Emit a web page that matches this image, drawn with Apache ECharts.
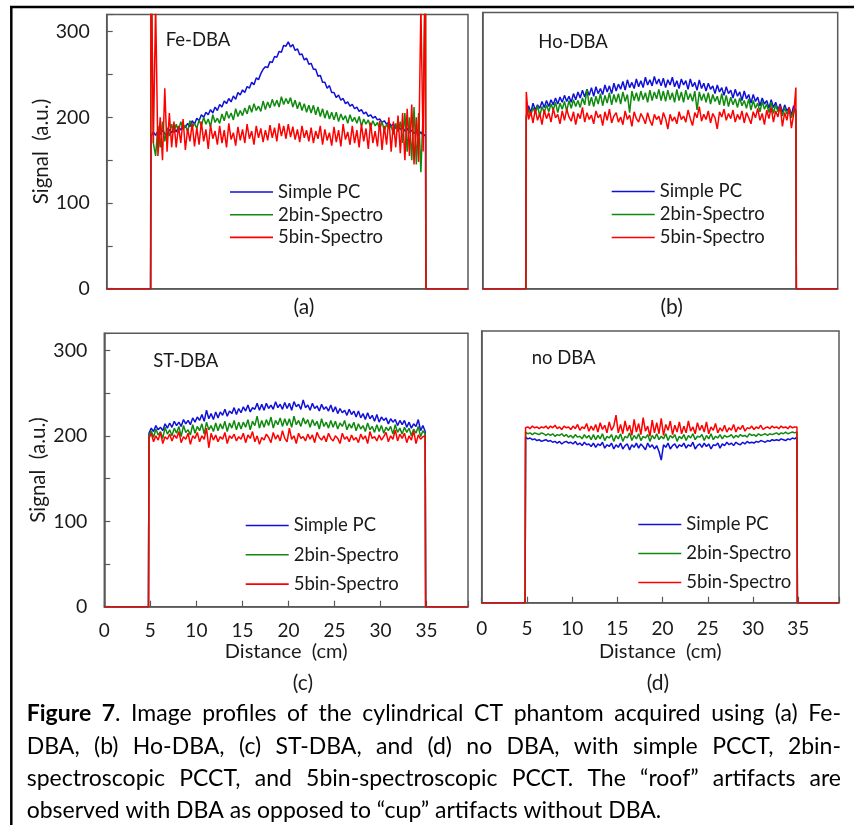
<!DOCTYPE html>
<html><head><meta charset="utf-8">
<script src="https://cdn.jsdelivr.net/npm/echarts@6/dist/echarts.min.js"></script>
<style>html,body{margin:0;padding:0;background:#fff}#c{width:854px;height:825px}</style>
</head><body><div id="c"></div><script>
// ---------------- DATA ----------------
const SERIES_NAMES = ['Simple PC', '2bin-Spectro', '5bin-Spectro'];
const PANEL_TITLES = ['Fe-DBA', 'Ho-DBA', 'ST-DBA', 'no DBA'];
const PANEL_LABELS = ['(a)', '(b)', '(c)', '(d)'];
const Y_TICK_LABELS = [0, 100, 200, 300];
const X_TICK_LABELS = [0, 5, 10, 15, 20, 25, 30, 35];
const Y_NAME = 'Signal  (a.u.)';
const X_NAME = 'Distance  (cm)';
// sample positions (cm): first sample and spacing of the profile samples
const X_START = 4.85, X_STEP = 0.25;
// zero baseline before/after the phantom (cm)
const EDGE_X = [0, 4.8, 34.9, 39.5];

// (a) Fe-DBA
const FE_SIMPLE = [
 178,183,179,184,180,185,181,179,186,182,
 187,183,189,185,191,188,193,189,196,192,
 199,196,203,200,206,203,209,205,212,208,
 215,212,219,216,222,218,225,221,229,226,
 232,229,236,234,241,238,246,244,251,256,
 259,258,265,264,271,270,277,276,284,283,
 288,282,285,278,280,273,274,267,269,262,
 263,256,256,248,249,241,241,234,237,229,
 229,223,226,220,222,216,218,213,215,210,
 212,207,209,204,206,201,203,199,201,197,
 198,194,196,192,194,190,192,187,190,186,
 188,184,187,182,185,181,184,179,183,178,
 180];
const FE_2BIN = [
 400,170,155,190,165,195,172,188,178,192,
 182,192,184,195,186,191,183,196,188,193,
 187,197,190,200,192,198,189,203,194,199,
 193,204,196,207,199,205,197,210,201,208,
 202,211,204,214,206,216,208,213,207,219,
 209,218,211,221,213,220,212,224,215,222,
 216,223,212,220,210,218,208,216,206,214,
 205,214,203,212,201,210,199,208,198,206,
 197,206,195,204,197,202,193,203,195,200,
 193,201,190,198,192,197,188,196,190,194,
 186,195,184,192,187,190,180,193,183,195,
 170,205,160,200,150,212,145,205,136,210,
 400];
const FE_5BIN = [
 400,170,330,155,200,150,234,160,205,165,
 195,165,190,170,198,162,187,172,193,166,
 188,168,195,172,186,163,191,175,184,168,
 190,170,185,165,193,174,182,167,189,173,
 186,170,192,175,184,168,190,176,187,171,
 185,173,191,176,188,172,193,178,190,175,
 192,177,189,174,186,171,190,176,185,172,
 188,170,184,175,190,168,186,173,182,167,
 189,171,185,166,192,174,183,168,190,170,
 185,165,192,172,187,163,194,170,184,166,
 196,162,190,168,200,160,195,165,202,158,
 205,150,210,155,215,145,200,148,330,160,
 400];

// (b) Ho-DBA
const HO_SIMPLE = [
 200,212,204,215,207,213,209,217,210,218,
 211,219,213,221,214,222,216,224,217,223,
 216,226,219,228,221,230,222,231,224,233,
 223,234,226,232,225,236,228,235,226,238,
 229,237,231,240,230,242,233,239,232,243,
 234,241,233,245,236,242,235,246,237,243,
 235,244,233,242,236,245,234,241,232,243,
 236,241,231,243,234,239,230,242,232,238,
 229,238,231,235,226,236,228,233,224,234,
 226,230,221,231,223,228,218,229,220,225,
 215,225,217,222,212,221,214,218,209,219,
 210,216,207,214,204,213,206,210,201,212,
 206];
const HO_2BIN = [
 198,208,201,210,203,212,200,211,204,213,
 205,214,207,216,204,215,208,217,206,218,
 209,219,211,218,210,221,213,231,212,222,
 211,223,214,226,212,224,215,227,213,225,
 216,226,214,228,217,225,204,229,218,227,
 217,229,219,227,216,230,218,228,220,231,
 218,229,217,230,219,227,216,231,218,228,
 216,230,219,226,217,229,207,228,218,226,
 216,227,214,225,217,223,213,226,212,224,
 211,222,213,220,210,221,212,218,209,220,
 207,218,209,215,205,217,208,214,204,216,
 203,213,205,211,200,210,202,208,198,207,
 203];
const HO_5BIN = [
 228,196,205,192,208,195,203,190,207,197,
 204,193,209,198,202,191,206,195,208,199,
 194,205,190,203,197,210,193,204,196,201,
 191,206,198,202,189,205,195,208,192,200,
 204,193,199,190,206,196,201,188,205,197,
 193,203,198,191,204,195,189,202,196,200,
 190,204,197,185,202,194,199,191,205,196,
 200,193,207,197,189,204,198,211,194,202,
 196,206,192,203,198,185,205,199,208,195,
 203,197,207,193,202,196,206,192,204,198,
 191,205,198,209,195,203,190,207,197,210,
 193,206,199,212,188,204,195,210,186,202,
 233];

// (c) ST-DBA
const ST_SIMPLE = [
 203,209,205,212,207,210,206,214,209,215,
 210,217,212,216,211,219,214,218,213,221,
 216,222,218,225,217,230,220,226,219,228,
 221,228,224,231,223,229,226,233,225,232,
 227,234,229,236,228,233,231,238,230,237,
 230,238,232,236,231,240,233,237,231,239,
 232,238,230,240,234,237,231,242,233,236,
 230,238,232,235,229,237,231,234,229,236,
 228,234,226,232,227,230,224,231,225,229,
 222,229,221,226,219,227,220,224,217,225,
 216,222,218,221,214,220,216,219,212,218,
 213,218,210,216,209,214,211,219,206,212,
 205];
const ST_2BIN = [
 200,206,198,208,201,205,197,210,202,207,
 200,209,203,211,199,212,204,207,201,213,
 203,211,206,214,202,216,207,212,205,215,
 206,214,208,217,205,215,209,218,207,216,
 208,216,210,219,207,217,212,223,209,218,
 210,219,212,222,209,218,213,221,211,220,
 212,220,210,223,213,218,211,221,214,219,
 210,219,212,217,208,220,211,216,209,218,
 210,217,208,215,211,218,207,214,209,216,
 206,214,208,212,205,215,207,211,204,213,
 205,212,203,210,206,211,202,213,204,209,
 202,210,204,209,200,208,203,211,199,206,
 202];
const ST_5BIN = [
 197,203,193,200,195,204,191,199,196,202,
 194,201,197,205,192,199,196,203,190,200,
 197,204,193,200,196,209,186,203,195,201,
 193,199,196,204,191,200,197,202,194,199,
 196,203,192,201,197,205,193,200,190,198,
 195,202,198,192,204,196,201,194,206,197,
 193,209,196,200,191,203,197,199,194,202,
 196,201,192,204,198,195,200,193,203,197,
 194,200,197,191,203,196,199,193,201,195,
 198,192,202,196,200,191,205,197,199,194,
 201,195,199,204,193,200,196,207,194,202,
 197,203,192,200,195,206,191,201,196,199,
 200];

// (d) no DBA
const NO_SIMPLE = [
 195,193,194,192,193,191,192,190,191,192,
 190,191,189,190,188,190,187,189,190,188,
 189,187,190,186,188,185,189,186,187,184,
 188,183,187,185,189,182,186,184,188,181,
 186,183,188,181,185,187,180,186,183,188,
 182,187,184,180,188,183,186,181,185,178,
 168,186,183,188,181,185,187,182,186,184,
 188,182,186,184,189,181,185,187,183,188,
 184,187,181,186,185,188,182,187,185,189,
 186,188,185,189,187,186,189,187,190,188,
 189,188,190,189,191,190,189,191,190,192,
 191,192,191,193,192,191,193,192,194,193,
 195];
const NO_2BIN = [
 201,199,200,198,200,199,198,200,199,197,
 199,197,199,196,198,197,199,196,198,195,
 197,194,198,195,196,193,198,194,197,192,
 198,192,197,193,199,191,196,194,198,190,
 197,193,199,190,196,194,200,191,197,193,
 199,191,196,194,198,190,197,193,199,192,
 196,193,199,191,197,194,198,190,196,193,
 198,191,197,194,199,192,196,195,198,191,
 197,193,199,192,196,194,198,193,197,195,
 196,198,194,197,195,198,196,197,195,199,
 197,198,196,199,197,198,199,197,199,198,
 199,200,198,200,199,201,199,200,201,200,
 201];
const NO_5BIN = [
 206,207,205,208,206,207,205,207,206,208,
 205,208,206,209,205,207,204,208,206,207,
 204,208,205,210,203,207,205,211,202,208,
 203,210,201,212,204,209,200,213,203,208,
 221,200,210,199,214,202,209,197,216,201,
 211,198,218,202,208,196,215,200,212,199,
 217,197,210,203,214,198,209,201,213,199,
 208,200,214,202,207,199,212,203,209,201,
 213,199,207,203,211,200,206,202,209,201,
 206,203,210,201,207,204,209,202,206,205,
 208,204,207,205,209,204,206,207,205,208,
 206,207,205,208,206,207,205,208,206,207,
 207];

const CAPTION_LINES = [
 '**Figure** **7**. Image profiles of the cylindrical CT phantom acquired using (a) Fe-',
 'DBA, (b) Ho-DBA, (c) ST-DBA, and (d) no DBA, with simple PCCT, 2bin-',
 'spectroscopic PCCT, and 5bin-spectroscopic PCCT. The \u201croof\u201d artifacts are',
 'observed with DBA as opposed to \u201ccup\u201d artifacts without DBA.'
];

// ---------------- STYLE / LAYOUT ----------------
const FONT = 'Lato';
const TXT = '#1a1a1a';
const AXIS_C = '#595959';
const COLORS = ['#1010d8', '#0f8a0f', '#ff0000'];
const PANEL_DATA = [
  [FE_SIMPLE, FE_2BIN, FE_5BIN],
  [HO_SIMPLE, HO_2BIN, HO_5BIN],
  [ST_SIMPLE, ST_2BIN, ST_5BIN],
  [NO_SIMPLE, NO_2BIN, NO_5BIN]
];
const LAYOUT = [
  {grid:{left:106.7, top:14.5, width:361.3, height:274.2}, yLab:true,  xLab:false, xMargin:15, xGap:35,
   title:[165.7,40], sub:[304,307], legend:{left:230, top:182.5, gap:3.7}},
  {grid:{left:482.7, top:12.5, width:355,   height:276.2}, yLab:false, xLab:false, xMargin:15, xGap:35,
   title:[538.3,41.7], sub:[671.7,307], legend:{left:611.7, top:182, gap:4}},
  {grid:{left:104.3, top:333.3, width:363.7, height:273.4}, yLab:true,  xLab:true, xMargin:15, xGap:35,
   title:[153.3,361], sub:[303,683], legend:{left:245.7, top:516, gap:10.3}},
  {grid:{left:481.7, top:331,   width:357.3, height:271.7}, yLab:false, xLab:true, xMargin:16.5, xGap:38.5,
   title:[531.7,358], sub:[658,683], legend:{left:638.3, top:515, gap:10}}
];

function toPoints(vals) {
  const out = [[EDGE_X[0], 0], [EDGE_X[1], 0]];
  vals.forEach((v, i) => out.push([+(X_START + X_STEP * i).toFixed(3), v]));
  out.push([EDGE_X[2], 0], [EDGE_X[3], 0]);
  return out;
}

const grids = [], xAxes = [], yAxes = [], series = [], legends = [], graphics = [];
LAYOUT.forEach((L, p) => {
  grids.push(Object.assign({show:true, borderColor:AXIS_C, borderWidth:1.5, backgroundColor:'transparent'}, L.grid));
  xAxes.push({
    type:'value', gridIndex:p, min:0, max:EDGE_X[3], interval:5,
    name: L.xLab ? X_NAME : '', nameLocation:'middle', nameGap:L.xGap,
    nameTextStyle:{fontFamily:FONT, fontSize:20, color:TXT},
    axisLine:{show:true, onZero:false, lineStyle:{color:AXIS_C, width:1.5}},
    axisTick:{show:L.xLab, inside:true, length:6, lineStyle:{color:AXIS_C, width:1.2}},
    axisLabel:{show:L.xLab, margin:L.xMargin, fontFamily:FONT, fontSize:19, color:TXT,
      formatter: v => X_TICK_LABELS.indexOf(v) >= 0 ? String(v) : ''},
    splitLine:{show:false}
  });
  yAxes.push({
    type:'value', gridIndex:p, min:0, max:320, interval:50,
    name: L.yLab ? Y_NAME : '', nameLocation:'middle', nameGap:55,
    nameTextStyle:{fontFamily:FONT, fontSize:20.5, color:TXT},
    axisLine:{show:true, lineStyle:{color:AXIS_C, width:1.5}},
    axisTick:{show:L.yLab, inside:true, length:6, lineStyle:{color:AXIS_C, width:1.2}},
    axisLabel:{show:L.yLab, margin:17, fontFamily:FONT, fontSize:19.5, color:TXT,
      formatter: v => Y_TICK_LABELS.indexOf(v) >= 0 ? String(v) : ''},
    splitLine:{show:false}
  });
  PANEL_DATA[p].forEach((vals, s) => {
    series.push({
      type:'line', name:SERIES_NAMES[s], xAxisIndex:p, yAxisIndex:p,
      data: toPoints(vals), symbol:'none', showSymbol:false, clip:true,
      lineStyle:{color:COLORS[s], width:1.5}, itemStyle:{color:COLORS[s]},
      z: 2 + s, animation:false
    });
  });
  legends.push({
    orient:'vertical', left:L.legend.left, top:L.legend.top, padding:0,
    icon:'rect', itemWidth:43, itemHeight:1.6, itemGap:L.legend.gap, selectedMode:false,
    data: SERIES_NAMES.slice(),
    textStyle:{fontFamily:FONT, fontSize:18.5, color:TXT, lineHeight:18}
  });
  graphics.push({type:'text', x:L.title[0], y:L.title[1], silent:true,
    style:{text:PANEL_TITLES[p], fontFamily:FONT, fontSize:18.5, fill:TXT, align:'left', verticalAlign:'middle'}});
  graphics.push({type:'text', x:L.sub[0], y:L.sub[1], silent:true,
    style:{text:PANEL_LABELS[p], fontFamily:FONT, fontSize:21, fill:TXT, align:'center', verticalAlign:'middle'}});
});

// outer frame
graphics.push({type:'line', silent:true, shape:{x1:10, y1:7, x2:854, y2:7}, style:{stroke:'#000', lineWidth:2.5}});
graphics.push({type:'line', silent:true, shape:{x1:11.3, y1:6, x2:11.3, y2:825}, style:{stroke:'#000', lineWidth:2.5}});

// caption, justified
(function () {
  const ctx = document.createElement('canvas').getContext('2d');
  const LEFT = 26.7, RIGHT = 841, LAST_W = 672;
  const Y = [714, 746.5, 778.5, 810.5];
  function mw(t, b, size) { ctx.font = (b ? 'bold ' : '') + size + 'px ' + FONT; return ctx.measureText(t).width; }
  let size = 20;
  const w4 = mw(CAPTION_LINES[3], false, 20);
  if (w4 > 0) size = Math.max(17, Math.min(23, 20 * LAST_W / w4));
  CAPTION_LINES.forEach((line, li) => {
    const words = line.split(' ').map(w => w.split('**').map((t, i) => ({t, b: i % 2 === 1})).filter(s => s.t));
    const widths = words.map(ws => ws.reduce((a, s) => a + mw(s.t, s.b, size), 0));
    const total = widths.reduce((a, b) => a + b, 0);
    const gap = (li < 3 && words.length > 1) ? (RIGHT - LEFT - total) / (words.length - 1) : mw(' ', false, size);
    let x = LEFT;
    words.forEach((ws, wi) => {
      let sx = x;
      ws.forEach(s => {
        graphics.push({type:'text', x:sx, y:Y[li], silent:true,
          style:{text:s.t, fontFamily:FONT, fontSize:size, fontWeight:s.b ? 'bold' : 'normal', fill:'#000', align:'left', verticalAlign:'middle'}});
        sx += mw(s.t, s.b, size);
      });
      x += widths[wi] + gap;
    });
  });
})();

const chart = echarts.init(document.getElementById('c'), null, {renderer:'canvas'});
chart.setOption({
  animation:false,
  backgroundColor:'#fff',
  grid:grids, xAxis:xAxes, yAxis:yAxes, series:series, legend:legends, graphic:graphics
});
</script></body></html>
